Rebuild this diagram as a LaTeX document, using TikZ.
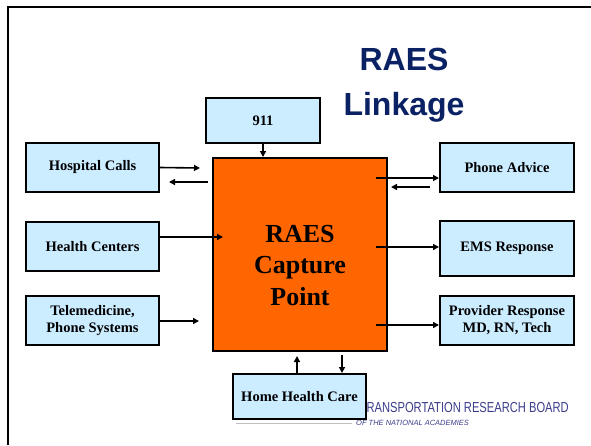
\documentclass[tikz,border=0pt]{standalone}
\usepackage{fontspec}
\setmainfont{Liberation Serif}
\newfontfamily\titlefont{Liberation Sans}
\usetikzlibrary{arrows.meta}
\definecolor{boxblue}{RGB}{204,236,255}
\definecolor{coreorange}{RGB}{255,102,0}
\definecolor{titlenavy}{RGB}{10,34,100}
\definecolor{trbnavy}{RGB}{60,62,140}
\tikzset{
  box/.style={draw=black, line width=2pt, fill=boxblue, inner sep=0pt, align=center,
    font=\fontsize{14.5}{17}\selectfont\bfseries},
  core/.style={draw=black, line width=2pt, fill=coreorange, inner sep=0pt},
  coretxt/.style={inner sep=0pt, align=center, font=\fontsize{26}{31.5}\selectfont\bfseries},
  arr/.style={line width=1.6pt, -{Triangle[length=6pt,width=6pt]}},
}
\begin{document}
\begin{tikzpicture}[x=1pt,y=-1pt]
\useasboundingbox (0,0) rectangle (591,445);
\fill[white] (0,0) rectangle (591,445);
% frame
\draw[line width=2.5pt] (8,445) -- (8,7) -- (591,7);
% title
\node[font=\titlefont\fontsize{32}{45}\selectfont\bfseries, text=titlenavy, align=center]
  (title) at (404,85) {RAES\\Linkage};
% TRB logo text (partly hidden behind the Home Health Care box)
\node[font=\titlefont\fontsize{14.5}{15}\selectfont, text=trbnavy, anchor=base east, inner sep=0pt]
  (trb) at (569,412) {\scalebox{0.77}[1]{TRANSPORTATION RESEARCH BOARD}};
\node[font=\titlefont\itshape\fontsize{7.5}{8}\selectfont, text=trbnavy, anchor=base west, inner sep=0pt]
  (nas) at (356,425) {OF THE NATIONAL ACADEMIES};
\draw[gray!50, line width=0.8pt] (236,423) -- (352,423);
% boxes
\node[box, minimum width=114, minimum height=45] (n911) at (263,120.5) {911};
\node[box, minimum width=133, minimum height=49] (hosp) at (92.5,167.5) {Hospital Calls};
\node[box, minimum width=133, minimum height=49] (health) at (92.5,246.5) {Health Centers};
\node[box, minimum width=133, minimum height=49] (tele) at (92.5,320.5) {Telemedicine,\\Phone Systems};
\node[core, minimum width=174, minimum height=193] (core) at (300,254.5) {};
\node[coretxt] (coretext) at ([yshift=-11pt]core.center) {RAES\\Capture\\Point};
\node[box, minimum width=134, minimum height=49] (phone) at (507,167.5) {Phone Advice};
\node[box, minimum width=134, minimum height=55] (ems) at (507,248.5) {EMS Response};
\node[box, minimum width=134, minimum height=49] (prov) at (507,320.5) {Provider Response\\MD, RN, Tech};
\node[box, minimum width=133, minimum height=45] (home) at (299.5,396.5) {Home Health Care};
% free ends
\coordinate (h1) at (200,168);
\coordinate (h2s) at (208,182);
\coordinate (h2e) at (169,182);
\coordinate (hc) at (223,237);
\coordinate (te) at (199,321);
\coordinate (p1) at (376,178);
\coordinate (p2s) at (430,187);
\coordinate (p2e) at (391,187);
\coordinate (e1) at (376,247);
\coordinate (r1) at (376,325);
\coordinate (u1) at (297,356);
\coordinate (d1) at (342,355);
% connectors
\draw[arr] (n911.south) -- (n911.south |- core.north);
\draw[arr] (hosp.east) -- (h1);
\draw[arr] (h2s) -- (h2e);
\draw[arr] (health.east |- hc) -- (hc);
\draw[arr] (tele.east |- te) -- (te);
\draw[arr] (p1) -- (phone.west |- p1);
\draw[arr] (p2s) -- (p2e);
\draw[arr] (e1) -- (ems.west |- e1);
\draw[arr] (r1) -- (prov.west |- r1);
\draw[arr] (home.north -| u1) -- (u1);
\draw[arr] (d1) -- (home.north -| d1);
\end{tikzpicture}
\end{document}
